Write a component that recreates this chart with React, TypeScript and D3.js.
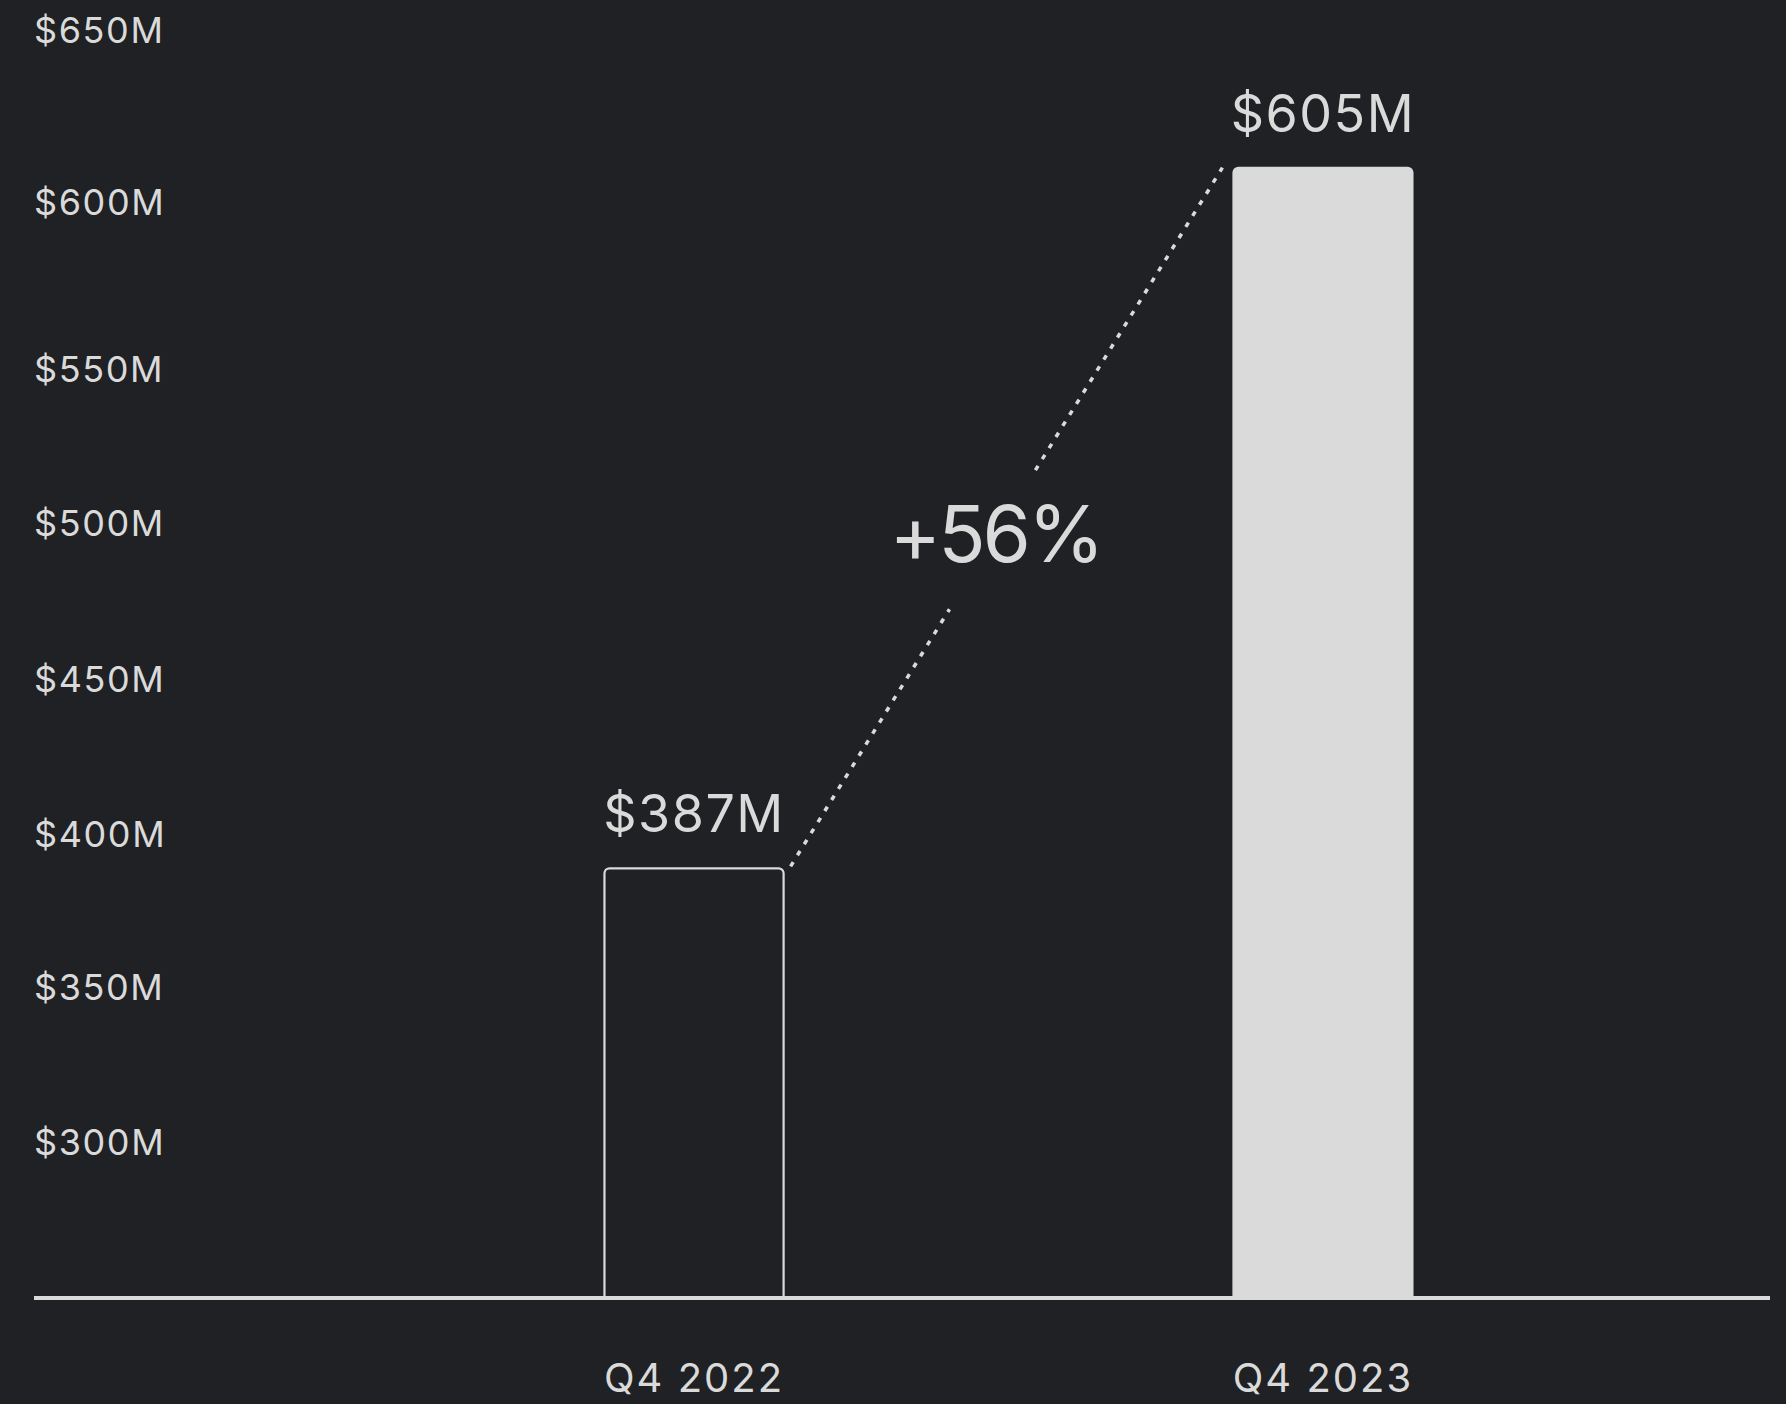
import React from "react";
import * as d3 from "d3";

// ---- data ----
const categories: string[] = ["Q4 2022", "Q4 2023"];
const revenue: number[] = [387, 605];
const valueLabels: string[] = ["$387M", "$605M"];
const tickValues: number[] = [300, 350, 400, 450, 500, 550, 600, 650];
const tickLabels: string[] = ["$300M", "$350M", "$400M", "$450M", "$500M", "$550M", "$600M", "$650M"];
const changeLabel = "+56%";

// ---- layout ----
const W = 1786;
const H = 1404;
const BG = "#1f2124";
const FG = "#dadada";
const FONT = "Inter, 'Noto Sans', sans-serif";

const baselineY = 1298;
const yDomainMin = 253;
const yDomainMax = 650;

function topRoundedRect(x: number, y: number, w: number, h: number, r: number) {
  const p = d3.path();
  p.moveTo(x, y + h);
  p.lineTo(x, y + r);
  p.arcTo(x, y, x + r, y, r);
  p.lineTo(x + w - r, y);
  p.arcTo(x + w, y, x + w, y + r, r);
  p.lineTo(x + w, y + h);
  return p.toString();
}

export default function App() {
  const x = d3
    .scaleBand<string>()
    .domain(categories)
    .range([289, 1728])
    .paddingInner(0.712)
    .paddingOuter(0.5);

  const y = d3
    .scaleLinear()
    .domain([yDomainMin, yDomainMax])
    .range([baselineY, baselineY - (yDomainMax - yDomainMin) * 3.214]);

  // tick label baselines (labels are spaced by the design, not linearly)
  const tickY = d3
    .scaleLinear()
    .domain(tickValues)
    .range([1155, 1000, 847, 692, 536, 382, 215, 43]);

  const bw = x.bandwidth();

  // connector between bar tops
  const p0: [number, number] = [(x(categories[0]) as number) + bw + 6, y(revenue[0]) - 1];
  const p1: [number, number] = [(x(categories[1]) as number) - 10, y(revenue[1]) + 1];
  const at = (t: number): [number, number] => [
    p0[0] + (p1[0] - p0[0]) * t,
    p0[1] + (p1[1] - p0[1]) * t,
  ];
  const line = d3.line();
  const segA = line([at(0), at(0.368)]) as string;
  const segB = line([at(0.567), at(1)]) as string;
  const labelPt = at(0.47);

  return (
    <svg
      width={W}
      height={H}
      style={{ position: "absolute", left: 0, top: 0, display: "block" }}
    >
      <rect x={0} y={0} width={W} height={H} fill={BG} />

      {/* y tick labels */}
      {tickValues.map((v, i) => (
        <text
          key={v}
          x={34}
          y={tickY(v)}
          fill={FG}
          fontFamily={FONT}
          fontSize={36}
          letterSpacing={1.6}
        >
          {tickLabels[i]}
        </text>
      ))}

      {/* bars */}
      {categories.map((c, i) => {
        const bx = x(c) as number;
        const by = y(revenue[i]);
        const h = baselineY - by;
        return i === 0 ? (
          <path
            key={c}
            d={topRoundedRect(bx + 1, by + 1, bw - 2, h - 1, 5)}
            fill="none"
            stroke={FG}
            strokeWidth={2.2}
          />
        ) : (
          <path key={c} d={topRoundedRect(bx, by, bw, h, 6) + "Z"} fill={FG} />
        );
      })}

      {/* baseline axis */}
      <line x1={34} x2={1770} y1={baselineY} y2={baselineY} stroke={FG} strokeWidth={4} />

      {/* value labels */}
      {categories.map((c, i) => (
        <text
          key={"v" + c}
          x={(x(c) as number) + bw / 2}
          y={y(revenue[i]) - 35}
          textAnchor="middle"
          fill={FG}
          fontFamily={FONT}
          fontSize={52}
          letterSpacing={1.5}
        >
          {valueLabels[i]}
        </text>
      ))}

      {/* category labels */}
      {categories.map((c) => (
        <text
          key={"c" + c}
          x={(x(c) as number) + bw / 2}
          y={1392}
          textAnchor="middle"
          fill={FG}
          fontFamily={FONT}
          fontSize={40}
          letterSpacing={2}
        >
          {c}
        </text>
      ))}

      {/* dotted connector */}
      <path d={segA} stroke={FG} strokeWidth={3.5} strokeDasharray="5 8" fill="none" />
      <path d={segB} stroke={FG} strokeWidth={3.5} strokeDasharray="5 8" fill="none" />

      <text
        x={labelPt[0] + 2}
        y={labelPt[1] + 24}
        textAnchor="middle"
        fill={FG}
        fontFamily={FONT}
        fontSize={78}
        letterSpacing={-3}
      >
        {changeLabel}
      </text>
    </svg>
  );
}
